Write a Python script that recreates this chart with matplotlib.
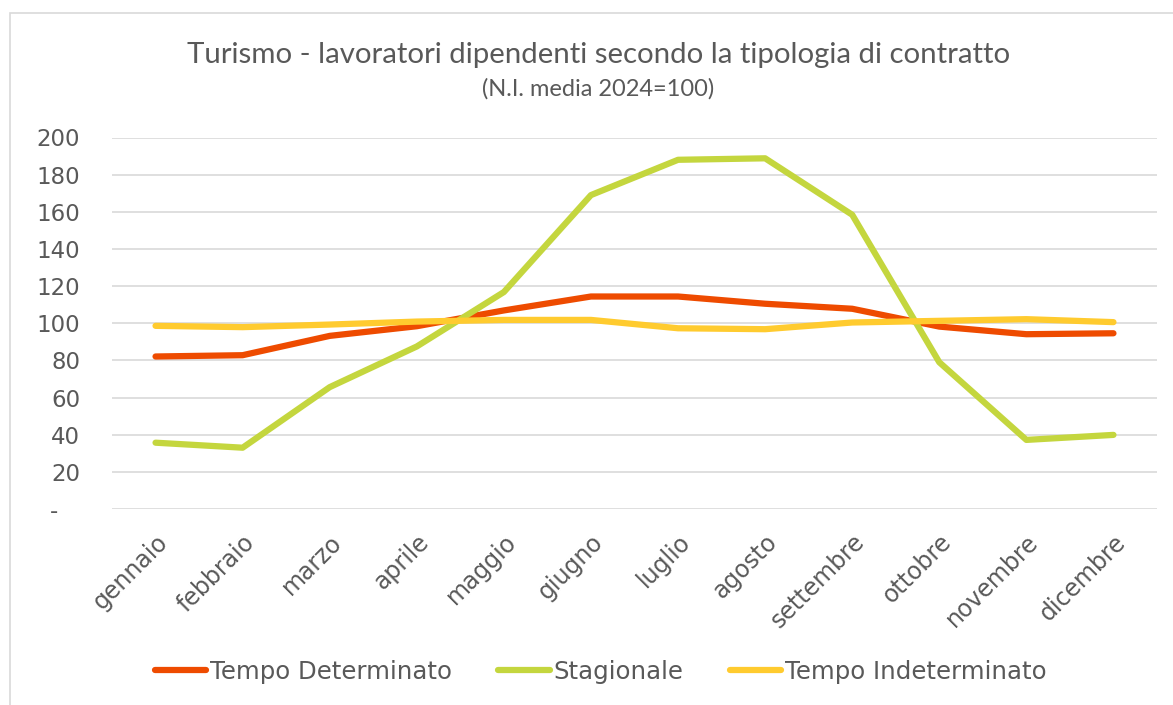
import matplotlib.pyplot as plt
from matplotlib.patches import Rectangle
from matplotlib.ticker import FuncFormatter

mesi = ['gennaio', 'febbraio', 'marzo', 'aprile', 'maggio', 'giugno',
        'luglio', 'agosto', 'settembre', 'ottobre', 'novembre', 'dicembre']
tempo_determinato = [82.1, 82.8, 93.2, 98.4, 106.9, 114.4, 114.4, 110.5, 107.8, 98.2, 94.1, 94.6]
stagionale = [35.7, 33.0, 65.6, 87.5, 116.8, 169.0, 188.0, 188.8, 158.4, 79.0, 37.2, 39.9]
tempo_indeterminato = [98.6, 97.9, 99.3, 100.9, 101.8, 101.8, 97.3, 96.8, 100.4, 101.3, 102.2, 100.6]
y_ticks = [0, 20, 40, 60, 80, 100, 120, 140, 160, 180, 200]

txt_col = '#595959'
fig = plt.figure(figsize=(11.73, 7.05), dpi=100)
fig.patches.append(Rectangle((10 / 1173, -0.05), 1.2, 1.05 - 13 / 705,
                             transform=fig.transFigure, fill=False,
                             edgecolor='#d9d9d9', lw=1.2))
ax = fig.add_axes([112 / 1173, 1 - 509 / 705, (1157 - 112) / 1173, (509 - 137.5) / 705])

x = range(len(mesi))
ax.plot(x, tempo_determinato, color='#EE4B00', lw=4.5, solid_capstyle='round', label='Tempo Determinato')
ax.plot(x, stagionale, color='#C4D63E', lw=4.5, solid_capstyle='round', label='Stagionale')
ax.plot(x, tempo_indeterminato, color='#FFCB2F', lw=4.5, solid_capstyle='round', label='Tempo Indeterminato')

ax.set_xlim(-0.5, len(mesi) - 0.5)
ax.set_ylim(0, 200)
ax.set_yticks(y_ticks)
ax.yaxis.set_major_formatter(FuncFormatter(lambda v, p: '-   ' if v == 0 else '%d' % v))
ax.set_xticks(list(x))
ax.set_xticklabels(mesi, rotation=45, ha='right', rotation_mode='anchor')
ax.grid(axis='y', color='#d9d9d9', lw=1.2)
ax.set_axisbelow(True)
for s in ax.spines.values():
    s.set_visible(False)
ax.tick_params(axis='y', length=0, pad=23, labelsize=16.5, labelcolor=txt_col)
ax.tick_params(axis='x', length=0, pad=15, labelsize=17, labelcolor=txt_col)

fig.text(0.51, 1 - 55 / 705, 'Turismo - lavoratori dipendenti secondo la tipologia di contratto',
         ha='center', va='center', fontsize=21.2, color=txt_col, family='Lato')
fig.text(0.51, 1 - 89 / 705, '(N.I. media 2024=100)',
         ha='center', va='center', fontsize=17, color=txt_col, family='Lato')

fig.legend(loc='center', bbox_to_anchor=(0.512, 1 - 672 / 705), ncol=3, frameon=False,
           fontsize=17.6, labelcolor=txt_col, handlelength=2.1, handletextpad=0.15,
           columnspacing=1.9)

fig.savefig('out.png', dpi=100)
